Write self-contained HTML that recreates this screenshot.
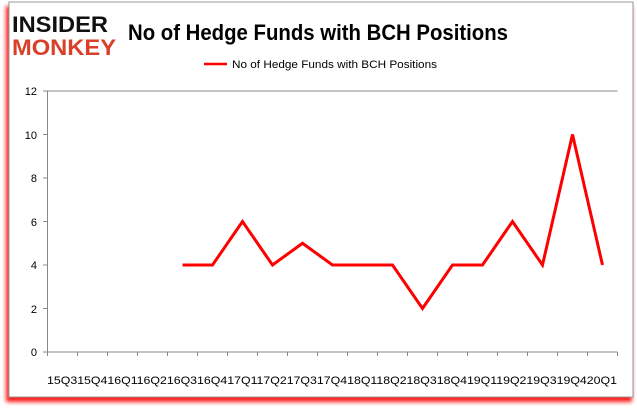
<!DOCTYPE html>
<html><head><style>body{margin:0;background:#fff}svg{display:block}</style></head><body>
<svg width="637" height="408" xmlns="http://www.w3.org/2000/svg" font-family="'Liberation Sans',sans-serif">
<defs><filter id="s" x="-5%" y="-5%" width="110%" height="110%"><feGaussianBlur stdDeviation="2"/></filter></defs>
<rect x="6" y="6" width="626" height="396" fill="#f00" filter="url(#s)" opacity="0.9"/>
<rect x="9" y="2" width="624" height="395" fill="#fff" stroke="#999" stroke-width="1"/>
<text x="12" y="32" font-size="22" font-weight="bold" fill="#111" textLength="96" lengthAdjust="spacingAndGlyphs">INSIDER</text>
<text x="12" y="55" font-size="22" font-weight="bold" fill="#d9402b" textLength="104" lengthAdjust="spacingAndGlyphs">MONKEY</text>
<text x="128" y="40" font-size="22" font-weight="bold" fill="#000" textLength="380" lengthAdjust="spacingAndGlyphs">No of Hedge Funds with BCH Positions</text>
<line x1="204" y1="64" x2="227" y2="64" stroke="#f00" stroke-width="2.5"/>
<text x="232" y="68" font-size="11" fill="#000" textLength="205" lengthAdjust="spacingAndGlyphs">No of Hedge Funds with BCH Positions</text>
<g stroke="#888" stroke-width="1">
<line x1="47.5" y1="91" x2="617.5" y2="91"/>
<line x1="47.5" y1="91" x2="47.5" y2="352"/>
<line x1="47.5" y1="352" x2="617.5" y2="352"/>
</g>
<g font-size="11" fill="#000" text-anchor="end">
<text x="37" y="95">12</text><text x="37" y="139">10</text><text x="37" y="182">8</text>
<text x="37" y="226">6</text><text x="37" y="269">4</text><text x="37" y="313">2</text><text x="37" y="356">0</text>
</g>
<g stroke="#888">
<path d="M43 91H48M43 134.5H48M43 178H48M43 221.5H48M43 265H48M43 308.5H48M43 352H48"/>
<path d="M47.5 352v4M77.5 352v4M107.5 352v4M137.5 352v4M167.5 352v4M197.5 352v4M227.5 352v4M257.5 352v4M287.5 352v4M317.5 352v4M347.5 352v4M377.5 352v4M407.5 352v4M437.5 352v4M467.5 352v4M497.5 352v4M527.5 352v4M557.5 352v4M587.5 352v4M617.5 352v4"/>
</g>
<text x="47" y="384" font-size="11" fill="#000" textLength="570" lengthAdjust="spacingAndGlyphs">15Q315Q416Q116Q216Q316Q417Q117Q217Q317Q418Q118Q218Q318Q419Q119Q219Q319Q420Q1</text>
<polyline fill="none" stroke="#f00" stroke-width="3" stroke-linejoin="miter" points="182.5,265 212.5,265 242.5,221.5 272.5,265 302.5,243.25 332.5,265 362.5,265 392.5,265 422.5,308.5 452.5,265 482.5,265 512.5,221.5 542.5,265 572.5,134.5 602.5,265"/>
</svg>
</body></html>
